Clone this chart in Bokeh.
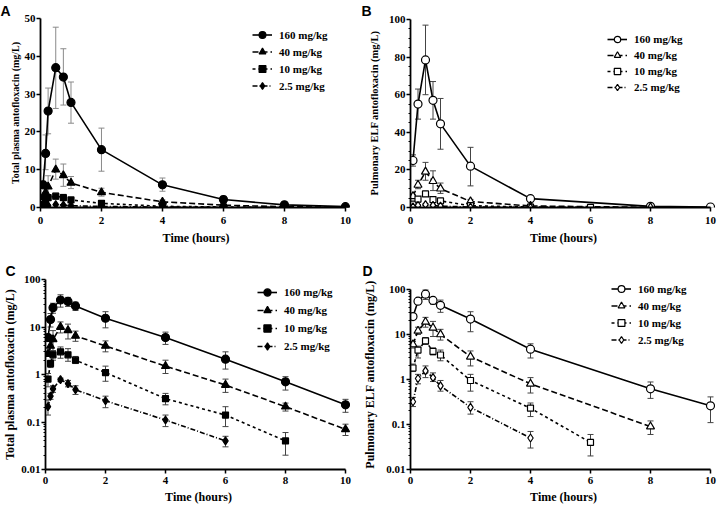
from bokeh.plotting import figure
from bokeh.models import (Range1d, Whisker, TeeHead, ColumnDataSource, Legend, LegendItem,
                          FixedTicker, CustomJSTickFormatter)
from bokeh.layouts import row, column
from bokeh.embed import file_html
from bokeh.resources import INLINE

# ---------------- data ----------------
doses = ["160 mg/kg", "40 mg/kg", "10 mg/kg", "2.5 mg/kg"]

# Plasma (panels A and C)
pl_t160 = [0.083, 0.167, 0.25, 0.5, 0.75, 1, 2, 4, 6, 8, 10]
pl_y160 = [6.0, 14.3, 25.5, 37.0, 34.5, 27.8, 15.3, 6.0, 2.1, 0.70, 0.23]
pl_lo160 = [5.0, 10.0, 19.5, 26.2, 27.1, 22.3, 9.6, 4.3, 1.3, 0.47, 0.16]
pl_hi160 = [7.0, 19.2, 31.6, 47.7, 42.0, 33.2, 21.0, 7.8, 3.0, 0.90, 0.30]

pl_t40 = [0.083, 0.167, 0.25, 0.5, 0.75, 1, 2, 4, 6, 8, 10]
pl_y40 = [2.7, 4.0, 5.5, 10.0, 8.5, 6.5, 4.0, 1.5, 0.6, 0.21, 0.07]
pl_lo40 = [2.4, 3.0, 3.0, 7.5, 5.6, 5.0, 3.0, 1.05, 0.42, 0.17, 0.052]
pl_hi40 = [3.0, 5.0, 8.4, 12.8, 11.5, 8.2, 5.1, 2.0, 0.80, 0.25, 0.09]

pl_t10 = [0.083, 0.167, 0.25, 0.5, 0.75, 1, 2, 4, 6, 8]
pl_y10 = [0.8, 1.7, 2.6, 3.0, 2.6, 2.0, 1.1, 0.31, 0.14, 0.04]
pl_lo10 = [0.55, 1.4, 2.0, 2.2, 1.9, 1.7, 0.72, 0.23, 0.08, 0.02]
pl_hi10 = [1.05, 2.0, 3.2, 3.8, 3.5, 2.4, 1.5, 0.40, 0.21, 0.06]

pl_t2 = [0.083, 0.167, 0.25, 0.5, 0.75, 1, 2, 4, 6]
pl_y2 = [0.21, 0.35, 0.5, 0.78, 0.64, 0.48, 0.28, 0.11, 0.04]
pl_lo2 = [0.14, 0.30, 0.42, 0.72, 0.55, 0.38, 0.20, 0.08, 0.03]
pl_hi2 = [0.29, 0.40, 0.58, 0.84, 0.75, 0.58, 0.35, 0.14, 0.05]

# Pulmonary ELF (panels B and D)
elf_t160 = [0.083, 0.25, 0.5, 0.75, 1, 2, 4, 8, 10]
elf_y160 = [25.0, 55.0, 78.5, 57.0, 44.5, 22.0, 4.7, 0.62, 0.26]
elf_lo160 = [22.0, 47.0, 60.0, 47.0, 31.0, 11.5, 3.0, 0.38, 0.11]
elf_hi160 = [28.0, 63.0, 97.0, 67.0, 58.0, 32.0, 6.2, 0.88, 0.41]

elf_t40 = [0.083, 0.25, 0.5, 0.75, 1, 2, 4, 8]
elf_y40 = [6.0, 12.0, 19.0, 14.0, 10.0, 3.2, 0.8, 0.09]
elf_lo40 = [5.0, 10.0, 14.5, 9.0, 7.5, 2.0, 0.5, 0.06]
elf_hi40 = [7.0, 14.5, 24.0, 19.5, 13.0, 4.3, 1.1, 0.12]

elf_t10 = [0.083, 0.25, 0.5, 0.75, 1, 2, 4, 6]
elf_y10 = [1.8, 4.5, 7.2, 4.2, 3.5, 0.95, 0.23, 0.04]
elf_lo10 = [1.5, 3.0, 6.0, 3.5, 2.6, 0.55, 0.15, 0.02]
elf_hi10 = [2.2, 5.5, 8.5, 5.0, 4.5, 1.3, 0.30, 0.06]

elf_t2 = [0.083, 0.25, 0.5, 0.75, 1, 2, 4]
elf_y2 = [0.32, 1.05, 1.55, 1.1, 0.72, 0.24, 0.05]
elf_lo2 = [0.25, 0.8, 1.1, 0.9, 0.55, 0.17, 0.03]
elf_hi2 = [0.40, 1.3, 2.0, 1.4, 0.95, 0.32, 0.07]

x_ticks = [0, 2, 4, 6, 8, 10]
lin_ticks_A = [0, 10, 20, 30, 40, 50]
lin_ticks_B = [0, 20, 40, 60, 80, 100]
log_ticks = [0.01, 0.1, 1, 10, 100]

plasma = [(pl_t160, pl_y160, pl_lo160, pl_hi160), (pl_t40, pl_y40, pl_lo40, pl_hi40),
          (pl_t10, pl_y10, pl_lo10, pl_hi10), (pl_t2, pl_y2, pl_lo2, pl_hi2)]
elf = [(elf_t160, elf_y160, elf_lo160, elf_hi160), (elf_t40, elf_y40, elf_lo40, elf_hi40),
       (elf_t10, elf_y10, elf_lo10, elf_hi10), (elf_t2, elf_y2, elf_lo2, elf_hi2)]

# ---------------- styles ----------------
markers = ["circle", "triangle", "square", "diamond"]
msizes = [8, 8, 6, 8]
dashes = ["solid", "6 3", "3 3", "5 2 1 2"]
SERIF = "Liberation Serif"

log_minor = []
for e in [0.01, 0.1, 1, 10]:
    for k in range(2, 10):
        log_minor.append(e * k)


def make_panel(letter, log, ylabel, ytitle_size, series, filled, err_color, width, height,
               mt, mb, ml, mr, yr, ybounds, leg_x, leg_y, item_h, let_x, let_valign,
               yticks, yminor, xlab_so, xtitle_so, ylab_so, ytitle_so):
    kw = dict(width=width, height=height, x_range=Range1d(0, 10.2),
              y_range=Range1d(*yr), output_backend="svg", toolbar_location=None)
    if log:
        kw["y_axis_type"] = "log"
    p = figure(**kw)
    if "frame_align" in p.properties():
        p.frame_align = False
    p.min_border_top = mt
    p.min_border_bottom = mb
    p.min_border_left = ml
    p.min_border_right = mr
    p.outline_line_color = None
    p.xgrid.visible = False
    p.ygrid.visible = False

    # panel letter as the plot title, pulled left to the canvas edge
    p.title.text = letter
    p.title.align = "left"
    p.title.vertical_align = let_valign
    p.title.offset = let_x - ml
    p.title.standoff = 0
    p.title.text_font = "Liberation Sans"
    p.title.text_font_style = "bold"
    p.title.text_font_size = "14px"
    p.title.text_color = "black"

    p.xaxis.bounds = (0, 10)
    p.yaxis.bounds = ybounds
    p.xaxis.ticker = FixedTicker(ticks=x_ticks, minor_ticks=[])
    p.yaxis.ticker = FixedTicker(ticks=yticks, minor_ticks=yminor)
    if log:
        p.yaxis.formatter = CustomJSTickFormatter(
            code="return parseFloat(tick.toPrecision(3)).toString();")
    p.xaxis.axis_label = "Time (hours)"
    p.yaxis.axis_label = ylabel
    for ax in [p.xaxis[0], p.yaxis[0]]:
        ax.axis_line_width = 1.8
        ax.axis_line_color = "black"
        ax.major_tick_line_width = 1.5
        ax.major_tick_line_color = "black"
        ax.major_tick_out = 4
        ax.major_tick_in = 0
        ax.minor_tick_out = 2
        ax.minor_tick_in = 0
        ax.minor_tick_line_width = 1
        ax.minor_tick_line_color = "black"
        ax.major_label_text_font = SERIF
        ax.major_label_text_font_style = "bold"
        ax.major_label_text_font_size = "11px"
        ax.major_label_text_color = "black"
        ax.axis_label_text_font = SERIF
        ax.axis_label_text_font_style = "bold"
        ax.axis_label_text_color = "black"
    p.xaxis.axis_label_text_font_size = "12px"
    p.yaxis.axis_label_text_font_size = ytitle_size
    p.xaxis.major_label_standoff = xlab_so
    p.xaxis.axis_label_standoff = xtitle_so
    p.yaxis.major_label_standoff = ylab_so
    p.yaxis.axis_label_standoff = ytitle_so

    items = []
    for i, (t, y, lo, hi) in enumerate(series):
        src = ColumnDataSource(dict(x=t, y=y, lo=lo, hi=hi))
        w = Whisker(base="x", upper="hi", lower="lo", source=src, dimension="height",
                    line_color=err_color, line_width=1,
                    upper_head=TeeHead(size=6, line_color=err_color, line_width=1),
                    lower_head=TeeHead(size=6, line_color=err_color, line_width=1))
        p.add_layout(w)
        lr = p.line("x", "y", source=src, line_color="black", line_width=1.6,
                    line_dash=dashes[i])
        sr = p.scatter("x", "y", source=src, marker=markers[i], size=msizes[i],
                       fill_color="black" if filled else "white",
                       line_color="black", line_width=1.2)
        items.append(LegendItem(label=doses[i], renderers=[lr, sr]))

    leg = Legend(items=items, location=(leg_x, leg_y))
    leg.label_text_font = SERIF
    leg.label_text_font_style = "bold"
    leg.label_text_font_size = "11px"
    leg.label_text_color = "black"
    leg.glyph_width = 20
    leg.glyph_height = item_h
    leg.label_height = item_h
    leg.label_standoff = 7
    leg.spacing = 0
    leg.padding = 0
    leg.margin = 0
    leg.border_line_color = None
    leg.background_fill_alpha = 0
    p.add_layout(leg)
    return p


# top row: height 250, frame rows 18..207 ; bottom row: height 256, frame 29..220
TOP_H, BOT_H = 250, 256
TOP_MT, TOP_MB = 18, 43
BOT_MT, BOT_MB = 29, 36
top_fh = TOP_H - TOP_MT - TOP_MB
bot_fh = BOT_H - BOT_MT - BOT_MB
b_top = 100 * top_fh / (top_fh - 1)
d_top = 10 ** (2 + 4 * 10 / (bot_fh - 10))

pA = make_panel("A", False, "Total plasma antofloxacin (mg/L)", "10px", plasma, True,
                "#8a8a8a", 360, TOP_H, TOP_MT, TOP_MB, 40, 9, (0, 50), (0, 50),
                212, 113, 17, 0, "bottom", lin_ticks_A, [], 5, 4, 1, 1)
pB = make_panel("B", False, "Pulmonary ELF antofloxacin (mg/L)", "10.5px", elf, False,
                "#444444", 360, TOP_H, TOP_MT, TOP_MB, 50, 4, (0, b_top), (0, 100),
                197, 112, 16, 1, "bottom", lin_ticks_B, list(range(5, 100, 5)), 5, 4, 1, 6)
pC = make_panel("C", True, "Total plasma antofloxacin (mg/L)", "12px", plasma, True,
                "#444444", 360, BOT_H, BOT_MT, BOT_MB, 40, 9, (0.01, 100), (0.01, 100),
                212, 114, 18, 0, "middle", log_ticks, log_minor, 3, 3, 1, 1)
pD = make_panel("D", True, "Pulmonary ELF antofloxacin (mg/L)", "12px", elf, False,
                "#444444", 360, BOT_H, BOT_MT, BOT_MB, 50, 4, (0.01, d_top), (0.01, 100),
                201, 121, 17, 2, "middle", log_ticks, log_minor, 3, 3, 1, 6)

layout = column(row(pA, pB), row(pC, pD))
open("out.html", "w").write(file_html(layout, INLINE))
